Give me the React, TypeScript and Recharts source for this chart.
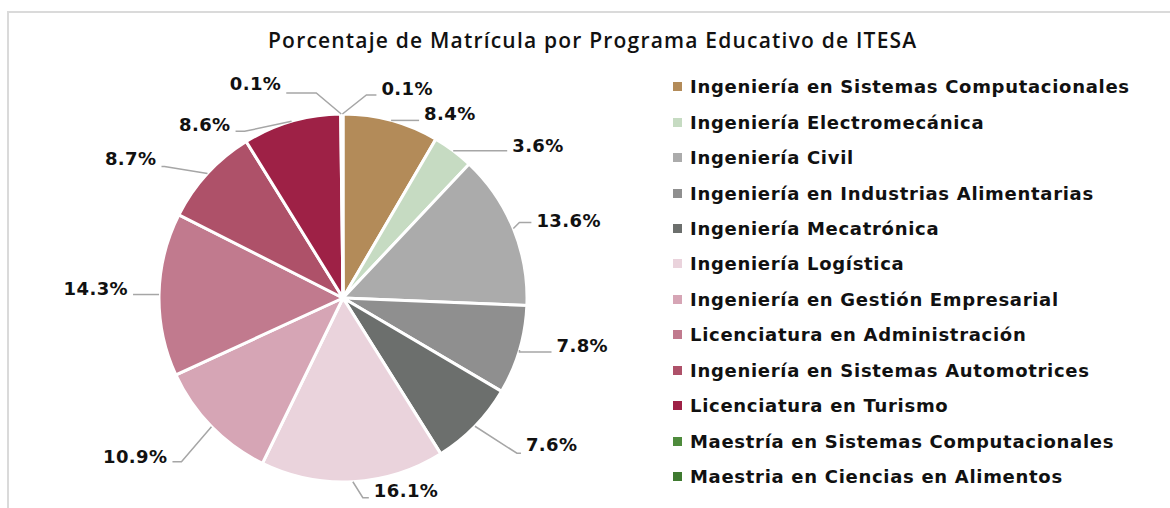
import React from 'react';
import { PieChart, Pie, Cell, Legend } from 'recharts';

const programas = [
  'Ingeniería en Sistemas Computacionales',
  'Ingeniería Electromecánica',
  'Ingeniería Civil',
  'Ingeniería en Industrias Alimentarias',
  'Ingeniería Mecatrónica',
  'Ingeniería Logística',
  'Ingeniería en Gestión Empresarial',
  'Licenciatura en Administración',
  'Ingeniería en Sistemas Automotrices',
  'Licenciatura en Turismo',
  'Maestría en Sistemas Computacionales',
  'Maestria en Ciencias en Alimentos',
];

const porcentajes = [8.4, 3.6, 13.6, 7.8, 7.6, 16.1, 10.9, 14.3, 8.7, 8.6, 0.1, 0.1];

const colores = [
  '#B38B59', '#C6DBC2', '#ABABAB', '#8F8F8F', '#6C6F6D', '#EAD3DC',
  '#D6A5B5', '#C17A8E', '#AE5169', '#9E2146', '#4E8B3C', '#3F7A30',
];

// label line geometry: [elbowDx, elbowDy, horizontal length, text dy]
const labelGeom: number[][] = [
  [0, 0, 28, -7],
  [2, 0, 52, -5],
  [6, -6, 12, -2],
  [0, 2, 32, -6],
  [42, 27, 4, -9],
  [10, 16, 6, -7],
  [-30, 35, -9, -5],
  [0, 0, -26, -6],
  [-43, -7, -3, -8],
  [-47, 10, -9, -7],
  [-25, -21, -30, -10],
  [24, -19, 10, -7],
];

const data = programas.map((name, i) => ({ name, value: porcentajes[i] }));

const FONT = "'Open Sans', 'DejaVu Sans', sans-serif";
const BOLD_FONT = "'DejaVu Sans', 'Open Sans', sans-serif";
const RAD = Math.PI / 180;

const renderLabel = (props: any) => {
  const { cx, cy, midAngle, outerRadius, index, value } = props;
  const ex = cx + outerRadius * Math.cos(-midAngle * RAD);
  const ey = cy + outerRadius * Math.sin(-midAngle * RAD);
  const [dx, dy, h, tdy] = labelGeom[index];
  const bx = ex + dx;
  const by = ey + dy;
  const lx = bx + h;
  const right = h >= 0;
  return (
    <g key={`lbl-${index}`}>
      <polyline
        points={`${ex},${ey} ${bx},${by} ${lx},${by}`}
        fill="none"
        stroke="#A6A6A6"
        strokeWidth={1.5}
      />
      <text
        x={right ? lx + 5 : lx - 5}
        y={by + tdy}
        textAnchor={right ? 'start' : 'end'}
        dominantBaseline="central"
        fontFamily={BOLD_FONT}
        fontWeight={700}
        fontSize={18}
        letterSpacing={0.4}
        fill="#111"
      >
        {`${value.toFixed(1)}%`}
      </text>
    </g>
  );
};

const renderLegend = (props: any) => {
  const payload = [...(props.payload || [])].sort(
    (a: any, b: any) => programas.indexOf(a.value) - programas.indexOf(b.value)
  );
  return (
    <ul style={{ listStyle: 'none', margin: 0, padding: 0 }}>
      {payload.map((entry: any, i: number) => (
        <li
          key={`leg-${i}`}
          style={{ height: 35.45, display: 'flex', alignItems: 'center', whiteSpace: 'nowrap' }}
        >
          <span
            style={{ width: 9, height: 9, background: entry.color, display: 'inline-block', marginRight: 8 }}
          />
          <span
            style={{ fontFamily: BOLD_FONT, fontWeight: 700, fontSize: 18, letterSpacing: 0.7, color: '#111' }}
          >
            {entry.value}
          </span>
        </li>
      ))}
    </ul>
  );
};

const App: React.FC = () => {
  return (
    <div
      style={{
        position: 'absolute',
        left: 0,
        top: 0,
        width: 1170,
        height: 508,
        overflow: 'hidden',
        background: '#fff',
      }}
    >
      <div
        style={{
          position: 'absolute',
          left: 7,
          top: 11,
          width: 1200,
          height: 520,
          borderTop: '2px solid #DADADA',
          borderLeft: '2px solid #DADADA',
        }}
      />
      <div
        style={{
          position: 'absolute',
          left: 268,
          top: 26,
          fontFamily: FONT,
          fontWeight: 600,
          fontSize: 21,
          letterSpacing: 1.2,
          color: '#111',
          whiteSpace: 'nowrap',
        }}
      >
        Porcentaje de Matrícula por Programa Educativo de ITESA
      </div>
      <div style={{ position: 'absolute', left: 0, top: 0 }}>
        <PieChart width={1170} height={508} margin={{ top: 0, right: 0, bottom: 0, left: 0 }}>
          <Pie
            data={data}
            dataKey="value"
            nameKey="name"
            cx={343}
            cy={298}
            outerRadius={184}
            startAngle={90}
            endAngle={-270}
            stroke="#fff"
            strokeWidth={3}
            label={renderLabel}
            labelLine={false}
            isAnimationActive={false}
          >
            {data.map((d, i) => (
              <Cell key={d.name} fill={colores[i]} />
            ))}
          </Pie>
          <Legend
            layout="vertical"
            align="right"
            verticalAlign="top"
            content={renderLegend}
            wrapperStyle={{ left: 673, top: 69, width: 495 }}
          />
        </PieChart>
      </div>
    </div>
  );
};

export default App;
